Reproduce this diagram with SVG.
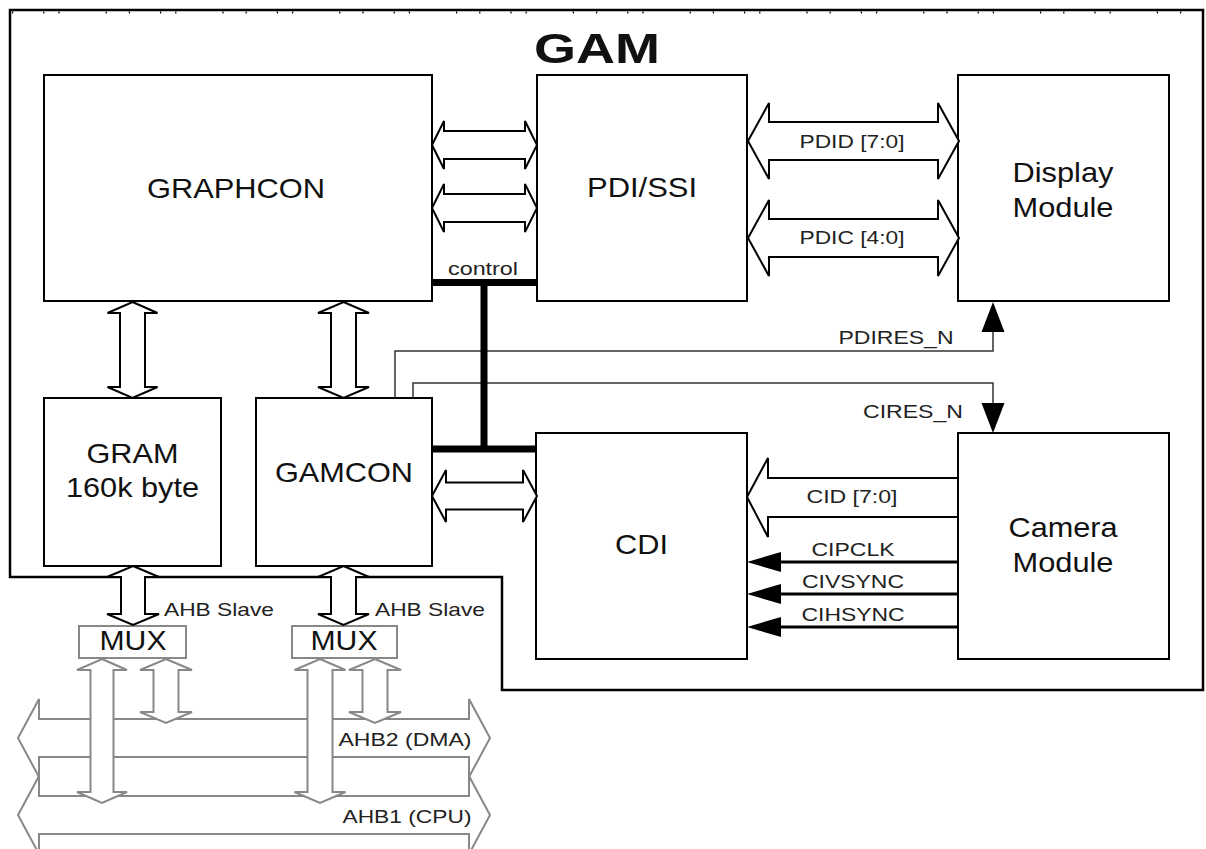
<svg xmlns="http://www.w3.org/2000/svg" width="1206" height="849" viewBox="0 0 1206 849">
<defs>
<style>
.box{fill:#fff;stroke:#000;stroke-width:2}
.mux{fill:#fff;stroke:#888;stroke-width:2}
.t{font-family:"Liberation Sans",Arial,sans-serif;text-anchor:middle;fill:#111}
.big{font-size:28px}
.sm{font-size:19px;fill:#222}
.ha{fill:#fff;stroke:#000;stroke-width:2;stroke-linejoin:miter}
.ga{fill:#fff;stroke:#888;stroke-width:2;stroke-linejoin:miter}
.sig{fill:none;stroke:#333;stroke-width:1.5}
.ctl{fill:none;stroke:#000;stroke-width:7}
.wire{fill:none;stroke:#000;stroke-width:3}
.head{fill:#000;stroke:none}
</style>
</defs>
<rect width="1206" height="849" fill="#fff"/>

<g id="gam">
<path d="M10,10 H1203 V690 H502 V577 H10 Z" fill="none" stroke="#000" stroke-width="2.5"/>
<line x1="12" y1="12.5" x2="1200" y2="12.5" stroke="#000" stroke-width="2" stroke-dasharray="1.2 30 1.2 14 1.2 46 1.2 22"/>
<text class="t" x="597" y="63" font-size="43" font-weight="bold" textLength="126" lengthAdjust="spacingAndGlyphs">GAM</text>
</g>

<g id="ahb1">
<polygon class="ga" points="18,815 39,776 39,796 469,796 469,776 490,815 469,854 469,834 39,834 39,854"/>
<text class="t sm" x="407" y="823" textLength="129" lengthAdjust="spacingAndGlyphs">AHB1 (CPU)</text>
</g>
<g id="ahb2">
<polygon class="ga" points="18,738 39,699 39,719 469,719 469,699 490,738 469,777 469,757 39,757 39,777"/>
<text class="t sm" x="405" y="746" textLength="133" lengthAdjust="spacingAndGlyphs">AHB2 (DMA)</text>
</g>

<g id="graphcon">
<rect class="box" x="44" y="75" width="388" height="226"/>
<text class="t big" x="236" y="198" textLength="178" lengthAdjust="spacingAndGlyphs">GRAPHCON</text>
</g>
<g id="pdissi">
<rect class="box" x="537" y="75" width="210" height="226"/>
<text class="t big" x="642" y="197" textLength="110" lengthAdjust="spacingAndGlyphs">PDI/SSI</text>
</g>
<g id="display">
<rect class="box" x="958" y="75" width="211" height="226"/>
<text class="t big" x="1063" y="182" textLength="101" lengthAdjust="spacingAndGlyphs">Display</text>
<text class="t big" x="1063" y="217" textLength="101" lengthAdjust="spacingAndGlyphs">Module</text>
</g>
<g id="gram">
<rect class="box" x="44" y="398" width="177" height="168"/>
<text class="t big" x="132.5" y="463" textLength="92" lengthAdjust="spacingAndGlyphs">GRAM</text>
<text class="t big" x="132.5" y="497" textLength="133" lengthAdjust="spacingAndGlyphs">160k byte</text>
</g>
<g id="gamcon">
<rect class="box" x="256" y="398" width="176" height="168"/>
<text class="t big" x="344" y="482" textLength="138" lengthAdjust="spacingAndGlyphs">GAMCON</text>
</g>
<g id="cdi">
<rect class="box" x="536" y="433" width="211" height="226"/>
<text class="t big" x="641.5" y="554" textLength="53" lengthAdjust="spacingAndGlyphs">CDI</text>
</g>
<g id="camera">
<rect class="box" x="958" y="433" width="211" height="226"/>
<text class="t big" x="1063" y="537" textLength="109" lengthAdjust="spacingAndGlyphs">Camera</text>
<text class="t big" x="1063" y="572" textLength="101" lengthAdjust="spacingAndGlyphs">Module</text>
</g>
<g id="mux1">
<rect class="mux" x="79" y="626" width="107" height="32"/>
<text class="t" x="133" y="650" font-size="27" textLength="67" lengthAdjust="spacingAndGlyphs">MUX</text>
</g>
<g id="mux2">
<rect class="mux" x="292" y="626" width="105" height="32"/>
<text class="t" x="344" y="650" font-size="27" textLength="67" lengthAdjust="spacingAndGlyphs">MUX</text>
</g>

<g id="connectors">
<!-- reset lines -->
<path class="sig" d="M395,398 V351 H993 V332"/>
<polygon class="head" points="993,302 1004.5,332 981.5,332"/>
<path class="sig" d="M413,398 V383 H993 V403"/>
<polygon class="head" points="993,433 1004.5,403 981.5,403"/>
<text class="t sm" x="896" y="344" textLength="115" lengthAdjust="spacingAndGlyphs">PDIRES_N</text>
<text class="t sm" x="913" y="418" textLength="100" lengthAdjust="spacingAndGlyphs">CIRES_N</text>

<!-- control bus -->
<path class="ctl" d="M432,282.5 H537 M484,282.5 V449 M432,449 H537"/>
<text class="t sm" x="483" y="275" textLength="70" lengthAdjust="spacingAndGlyphs">control</text>

<!-- GRAPHCON <-> PDI/SSI -->
<polygon class="ha" points="432,145 444,121 444,131 525,131 525,121 537,145 525,169 525,159 444,159 444,169"/>
<polygon class="ha" points="432,208 444,184 444,194 525,194 525,184 537,208 525,232 525,222 444,222 444,232"/>

<!-- PDI/SSI <-> Display -->
<polygon class="ha" points="748,141 769,103 769,122 938,122 938,103 959,141 938,179 938,160 769,160 769,179"/>
<text class="t sm" x="852" y="148" textLength="105" lengthAdjust="spacingAndGlyphs">PDID [7:0]</text>
<polygon class="ha" points="748,238 769,200 769,219 938,219 938,200 959,238 938,276 938,257 769,257 769,276"/>
<text class="t sm" x="852" y="244" textLength="105" lengthAdjust="spacingAndGlyphs">PDIC [4:0]</text>

<!-- GAMCON <-> CDI -->
<polygon class="ha" points="432,496 446,470 446,482.5 523,482.5 523,470 537,496 523,522 523,509.5 446,509.5 446,522"/>

<!-- Camera -> CDI -->
<polygon class="ha" points="747,497 768,458 768,478 958,478 958,517 768,517 768,537"/>
<text class="t sm" x="852" y="503" textLength="91" lengthAdjust="spacingAndGlyphs">CID [7:0]</text>
<line class="wire" x1="958" y1="562" x2="780" y2="562"/>
<polygon class="head" points="747,562 781,552 781,572"/>
<text class="t sm" x="853" y="556" textLength="83" lengthAdjust="spacingAndGlyphs">CIPCLK</text>
<line class="wire" x1="958" y1="594" x2="780" y2="594"/>
<polygon class="head" points="747,594 781,584 781,604"/>
<text class="t sm" x="853" y="588" textLength="102" lengthAdjust="spacingAndGlyphs">CIVSYNC</text>
<line class="wire" x1="958" y1="627" x2="780" y2="627"/>
<polygon class="head" points="747,627 781,617 781,637"/>
<text class="t sm" x="853" y="621" textLength="103" lengthAdjust="spacingAndGlyphs">CIHSYNC</text>

<!-- vertical black double arrows -->
<polygon class="ha" points="132.5,302 157.5,313 145,313 145,387 157.5,387 132.5,398 107.5,387 120,387 120,313 107.5,313"/>
<polygon class="ha" points="343.5,302 369,313 356,313 356,387 369,387 343.5,398 318,387 331,387 331,313 318,313"/>
<polygon class="ha" points="133,566 159,577 145,577 145,614 159,614 133,625 107,614 121,614 121,577 107,577"/>
<polygon class="ha" points="343.5,566 369,577 356,577 356,614 369,614 343.5,625 318,614 331,614 331,577 318,577"/>
<text class="t sm" x="219" y="616" textLength="110" lengthAdjust="spacingAndGlyphs">AHB Slave</text>
<text class="t sm" x="430" y="616" textLength="110" lengthAdjust="spacingAndGlyphs">AHB Slave</text>

<!-- gray MUX <-> bus arrows -->
<polygon class="ga" points="102,659 127,670 113.5,670 113.5,792 127,792 102,803 77,792 90.5,792 90.5,670 77,670"/>
<polygon class="ga" points="166,659 192,670 178.5,670 178.5,712 192,712 166,723 140,712 153.5,712 153.5,670 140,670"/>
<polygon class="ga" points="320,659 345.5,670 332.5,670 332.5,792 345.5,792 320,803 294.5,792 307.5,792 307.5,670 294.5,670"/>
<polygon class="ga" points="375,659 401,670 387.5,670 387.5,712 401,712 375,723 349,712 362.5,712 362.5,670 349,670"/>
</g>
</svg>
